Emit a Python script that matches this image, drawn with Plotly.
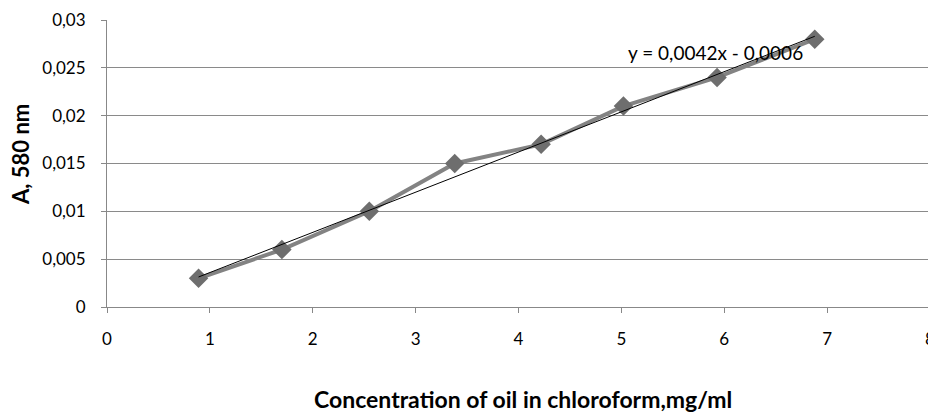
import plotly.graph_objects as go

# Data
concentration = [0.89, 1.70, 2.55, 3.38, 4.22, 5.02, 5.93, 6.88]
absorbance = [0.003, 0.006, 0.010, 0.015, 0.017, 0.021, 0.024, 0.028]

# Trendline from the chart's label
trend_slope = 0.0042
trend_intercept = -0.0006
trend_label = "y = 0,0042x - 0,0006"

x_ticks = [0, 1, 2, 3, 4, 5, 6, 7, 8]
x_tick_labels = ["0", "1", "2", "3", "4", "5", "6", "7", "8"]
y_ticks = [0, 0.005, 0.01, 0.015, 0.02, 0.025, 0.03]
y_tick_labels = ["0", "0,005", "0,01", "0,015", "0,02", "0,025", "0,03"]

x_title = "Concentration of oil in chloroform,mg/ml"
y_title = "A, 580 nm"

trend_x = [min(concentration), max(concentration)]
trend_y = [trend_slope * v + trend_intercept for v in trend_x]

FONT = "Lato, Open Sans, sans-serif"
# page has an 8px body margin: figure occupies page pixels 8..936 x 8..414
OFF = 8
W, H = 928, 406
L, R, T, B = 99, 6, 12, 107

def px_to_paper(px, py):
    fx, fy = px - OFF, py - OFF
    return (fx - L) / (W - L - R), 1 - (fy - T) / (H - T - B)

fig = go.Figure()
fig.add_trace(go.Scatter(
    x=concentration, y=absorbance, mode="lines+markers",
    line=dict(color="#838383", width=4),
    marker=dict(symbol="diamond", size=15, color="#6e6e6e"),
    showlegend=False,
))
fig.add_trace(go.Scatter(
    x=trend_x, y=trend_y, mode="lines",
    line=dict(color="#000000", width=1),
    showlegend=False,
))

fig.update_layout(
    width=W, height=H,
    margin=dict(l=L, r=R, t=T, b=B),
    paper_bgcolor="white", plot_bgcolor="white",
    font=dict(family=FONT, size=17, color="#000000"),
    xaxis=dict(
        range=[0, 8], tickvals=x_ticks, ticktext=x_tick_labels,
        showgrid=False, zeroline=False, showline=True, linecolor="#888888", linewidth=1,
        ticks="outside", ticklen=5, tickcolor="#888888", ticklabelstandoff=12,
        automargin=False,
    ),
    yaxis=dict(
        range=[0, 0.03], tickvals=y_ticks, ticktext=y_tick_labels,
        showgrid=True, gridcolor="#8a8a8a", gridwidth=1, zeroline=False,
        showline=True, linecolor="#888888", linewidth=1,
        ticks="outside", ticklen=5, tickcolor="#888888", ticklabelstandoff=12,
        automargin=False,
    ),
)

ax, ay = px_to_paper(715, 53)
fig.add_annotation(x=ax, y=ay, xref="paper", yref="paper", text=trend_label,
                   xanchor="center", yanchor="middle",
                   showarrow=False, font=dict(family=FONT, size=19, color="#000000"))

tx, ty = px_to_paper(523, 399)
fig.add_annotation(x=tx, y=ty, xref="paper", yref="paper", text="<b>" + x_title + "</b>",
                   xanchor="center", yanchor="middle",
                   showarrow=False, font=dict(family=FONT, size=23, color="#000000"))

yx, yy = px_to_paper(20, 155)
fig.add_annotation(x=yx, y=yy, xref="paper", yref="paper", text="<b>" + y_title + "</b>",
                   xanchor="center", yanchor="middle",
                   showarrow=False, textangle=-90,
                   font=dict(family=FONT, size=22, color="#000000"))

fig.write_html("out.html")
